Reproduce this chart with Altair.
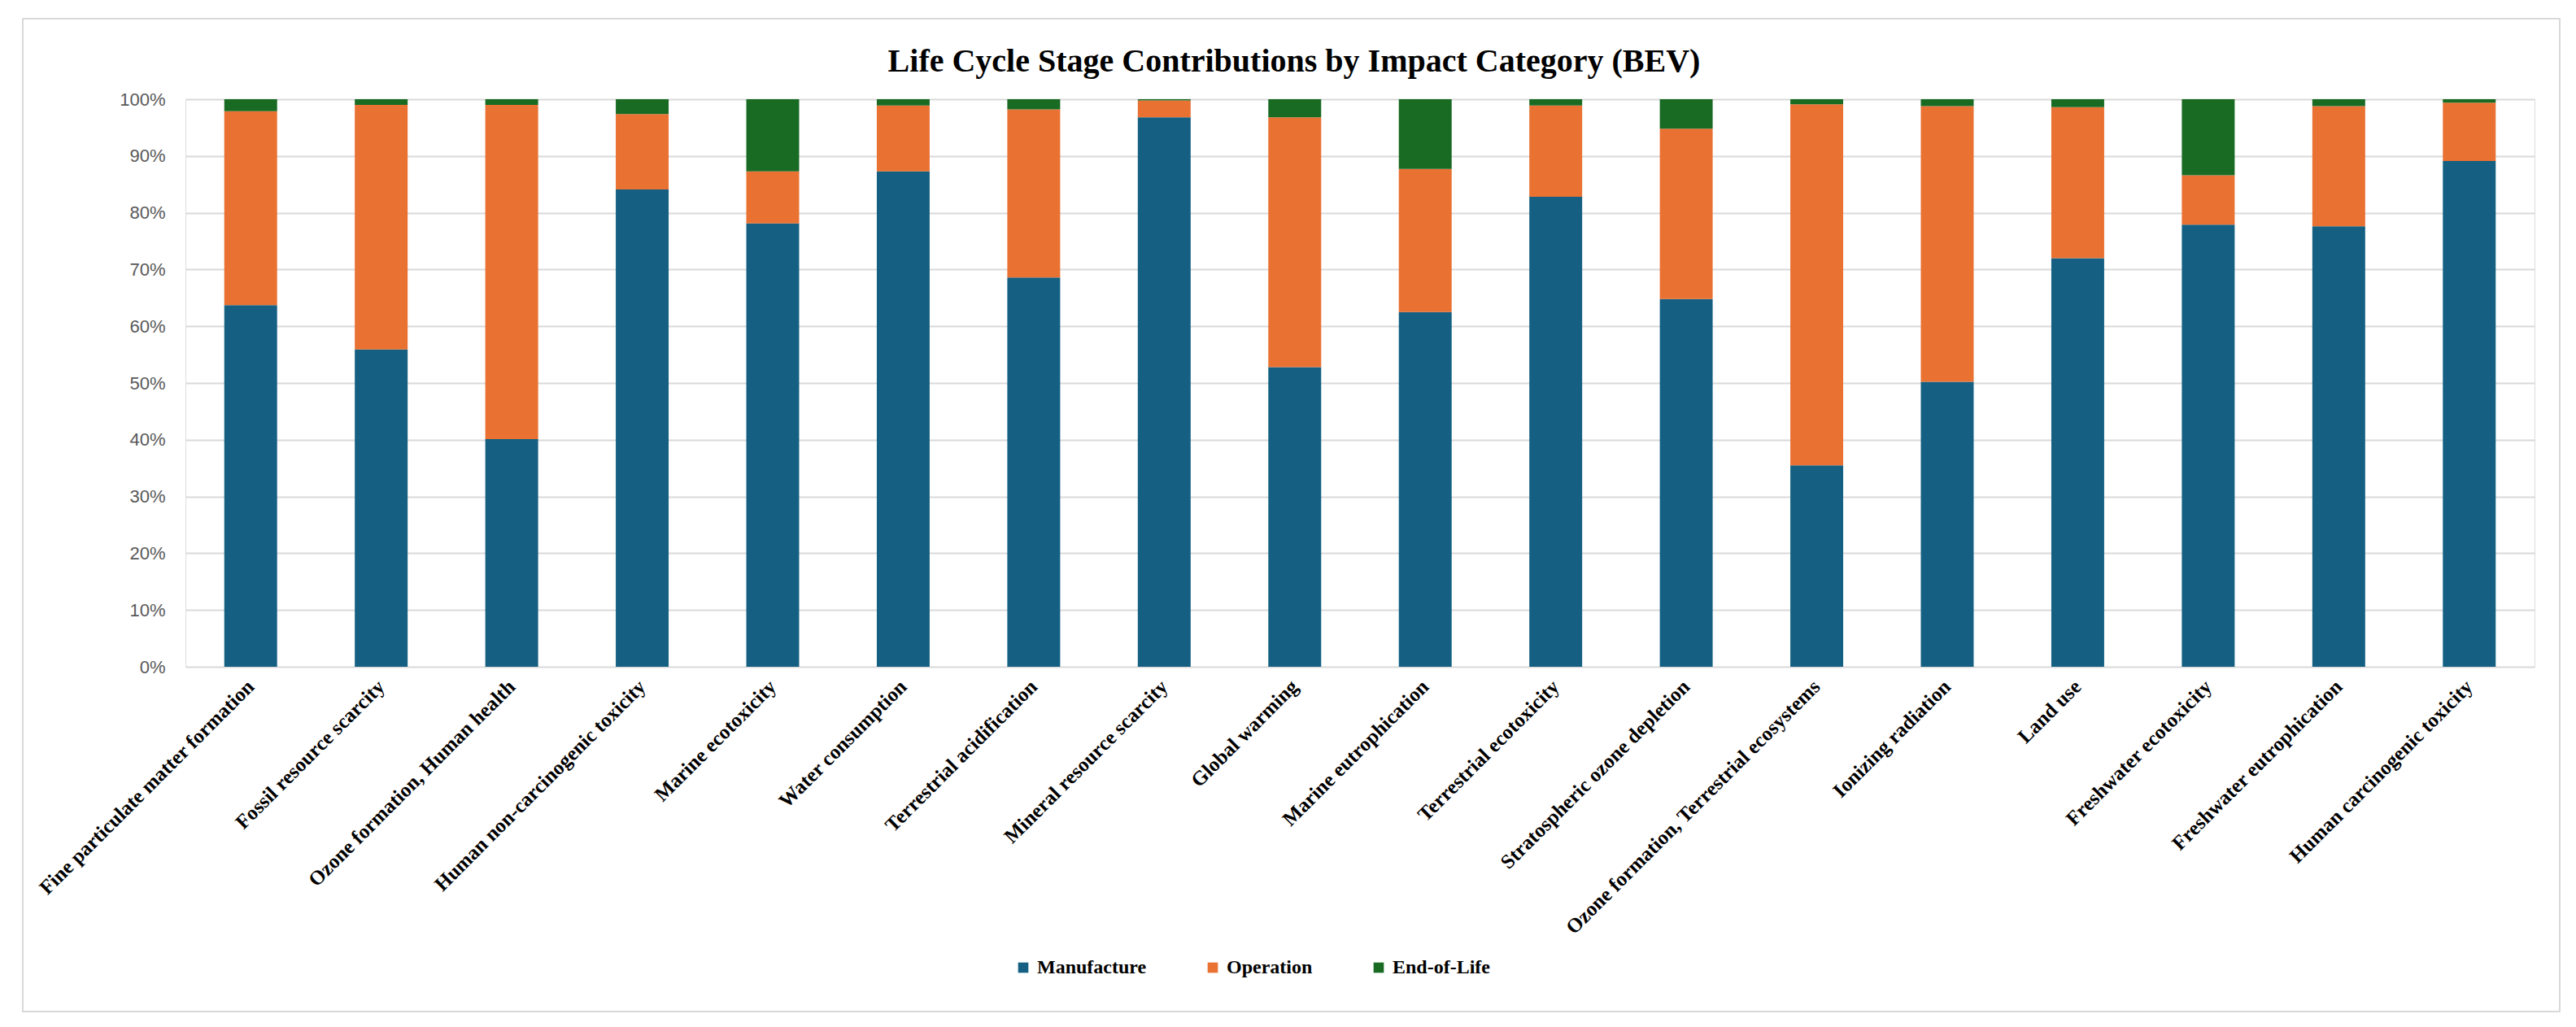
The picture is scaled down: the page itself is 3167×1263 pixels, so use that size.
import altair as alt
import pandas as pd

categories = [
    "Fine particulate matter formation",
    "Fossil resource scarcity",
    "Ozone formation, Human health",
    "Human non-carcinogenic toxicity",
    "Marine ecotoxicity",
    "Water consumption",
    "Terrestrial acidification",
    "Mineral resource scarcity",
    "Global warming",
    "Marine eutrophication",
    "Terrestrial ecotoxicity",
    "Stratospheric ozone depletion",
    "Ozone formation, Terrestrial ecosystems",
    "Ionizing radiation",
    "Land use",
    "Freshwater ecotoxicity",
    "Freshwater eutrophication",
    "Human carcinogenic toxicity",
]

stages = ["Manufacture", "Operation", "End-of-Life"]
colors = ["#156082", "#E97132", "#196B24"]

manufacture = [63.7, 55.9, 40.1, 84.1, 78.1, 87.3, 68.6, 96.8, 52.8, 62.5, 82.8, 64.8, 35.5, 50.2, 72.0, 77.9, 77.6, 89.1]
operation   = [34.2, 43.1, 58.9, 13.3,  9.2, 11.6, 29.6,  3.0, 44.0, 25.2, 16.1, 30.0, 63.6, 48.6, 26.6,  8.7, 21.2, 10.3]
end_of_life = [ 2.1,  1.0,  1.0,  2.6, 12.7,  1.1,  1.8,  0.2,  3.2, 12.3,  1.1,  5.2,  0.9,  1.2,  1.4, 13.4,  1.2,  0.6]

y_ticks = [0, 10, 20, 30, 40, 50, 60, 70, 80, 90, 100]

title_text = "Life Cycle Stage Contributions by Impact Category (BEV)"

rows = []
for i, c in enumerate(categories):
    for k, (s, vals) in enumerate(zip(stages, [manufacture, operation, end_of_life])):
        rows.append({"category": c, "stage": s, "order": k, "value": vals[i]})
df = pd.DataFrame(rows)

W, H = 2888, 698

bars = alt.Chart(df).mark_bar().encode(
    x=alt.X("category:N", sort=categories, title=None,
            scale=alt.Scale(paddingInner=0.595, paddingOuter=0.2975),
            axis=alt.Axis(labelAngle=-45, labelAlign="right", labelBaseline="middle",
                          labelFont="Liberation Serif", labelFontWeight="bold",
                          labelFontSize=25, labelColor="#000000",
                          labelPadding=20, labelLimit=0, ticks=False, domain=False,
                          grid=False)),
    y=alt.Y("value:Q", stack="zero", title=None,
            scale=alt.Scale(domain=[0, 100], nice=False),
            axis=alt.Axis(values=y_ticks, labelExpr="datum.value + '%'",
                          labelFont="Liberation Sans", labelFontSize=22,
                          labelColor="#595959", labelPadding=25,
                          ticks=False, domain=False, grid=True,
                          gridColor="#d9d9d9", gridWidth=2)),
    color=alt.Color("stage:N", sort=stages,
                    scale=alt.Scale(domain=stages, range=colors),
                    legend=alt.Legend(title=None, orient="none", legendX=1018, legendY=1056,
                                      direction="horizontal", columns=3,
                                      symbolType="square", symbolSize=160,
                                      symbolStrokeWidth=0, labelOffset=5,
                                      columnPadding=69, padding=0,
                                      labelFont="Liberation Serif", labelFontWeight="bold",
                                      labelFontSize=24, labelColor="#000000")),
    order=alt.Order("order:Q", sort="ascending"),
)

one = pd.DataFrame({"t": [title_text]})

frame = alt.Chart(one).mark_rect(
    filled=False, stroke="#d9d9d9", strokeWidth=2
).encode(
    x=alt.value(-200), x2=alt.value(2919), y=alt.value(-99), y2=alt.value(1122)
)

title = alt.Chart(one).mark_text(
    font="Liberation Serif", fontSize=40, fontWeight="bold", color="#000000",
    align="center", baseline="alphabetic"
).encode(
    text="t:N", x=alt.value(1363), y=alt.value(-34)
)

chart = alt.layer(frame, bars, title).properties(
    width=W, height=H,
    padding={"left": 220, "top": 114, "right": 40, "bottom": 428},
    autosize=alt.AutoSizeParams(type="none"),
).configure_view(stroke=None).configure(background="white")

chart.save("out.html", embed_options={"renderer": "svg", "actions": False})
